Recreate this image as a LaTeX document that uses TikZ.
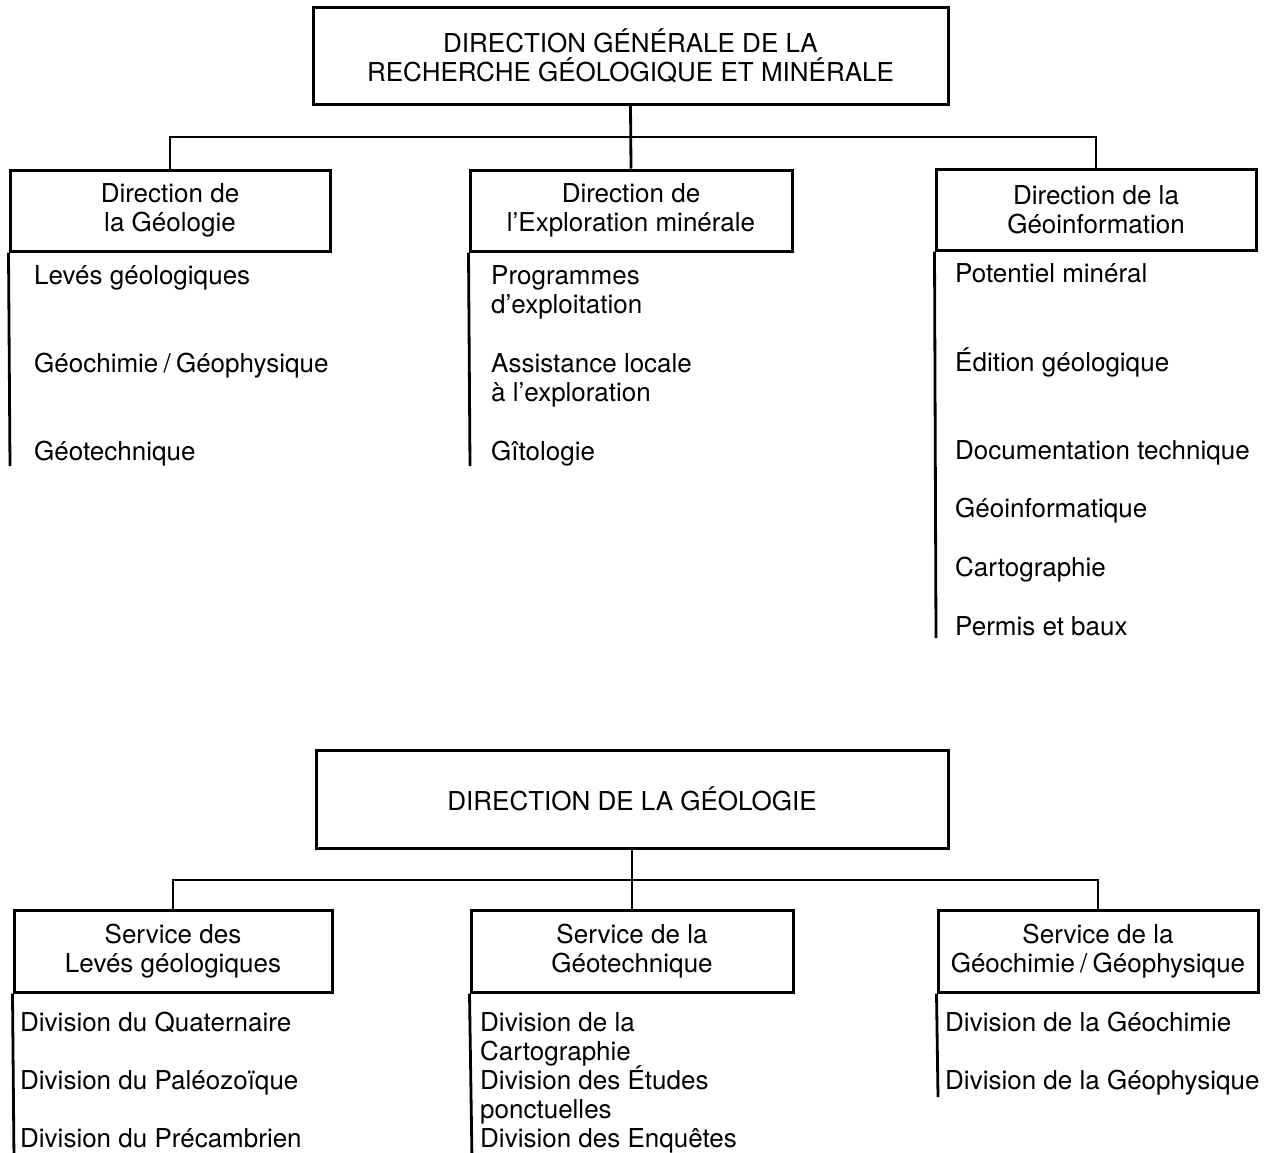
\documentclass[tikz,border=0pt]{standalone}
\usepackage{fontspec}
\setmainfont{TeX Gyre Heros}
\newcommand{\gslash}{\kern0.2em/\kern0.2em}
\begin{document}
\begin{tikzpicture}[x=1pt,y=-1pt,
  box/.style={draw,line width=3pt,align=center,inner sep=0pt,font=\fontsize{26}{29}\selectfont},
  item/.style={anchor=base west,inner sep=0pt,font=\fontsize{26}{29}\selectfont},
  conn/.style={line width=2.8pt}]
\useasboundingbox (0,0) rectangle (1279,1152);

% ---------- upper chart ----------
\node[box,minimum width=635pt,minimum height=97pt] (dg) at (630.5,55.5) {DIRECTION GÉNÉRALE DE LA\\RECHERCHE GÉOLOGIQUE ET MINÉRALE};
\node[box,minimum width=320pt,minimum height=81pt] (g1) at (170,210.5) {Direction de\\la Géologie};
\node[box,minimum width=322pt,minimum height=81pt] (g2) at (631,210.5) {Direction de\\l'Exploration minérale};
\node[box,minimum width=320pt,minimum height=81pt] (g3) at (1096,209.5) {Direction de la\\Géoinformation};

\coordinate (bus1) at (631,137);
\draw[conn] (dg.south) -- (g2.north);
\draw[conn] (g1.north) |- (bus1) -| (g3.north);

\coordinate (e1) at (10,466);
\coordinate (e2) at (470,466);
\coordinate (e3) at (936,638);
\draw[conn] (g1.south west) -- (e1);
\draw[conn] (g2.south west) -- (e2);
\draw[conn] (g3.south west) -- (e3);

\node[item] (a1) at (34,284) {Levés géologiques};
\node[item] (a2) at (34,372) {Géochimie\gslash Géophysique};
\node[item] (a3) at (34,460) {Géotechnique};

\node[item] (b1) at (491,284) {Programmes};
\node[item] (b1b) at (491,313) {d'exploitation};
\node[item] (b2) at (491,372) {Assistance locale};
\node[item] (b2b) at (491,401) {à l'exploration};
\node[item] (b3) at (491,460) {Gîtologie};

\node[item] (c1) at (955,282) {Potentiel minéral};
\node[item] (c2) at (955,371) {Édition géologique};
\node[item] (c3) at (955,459) {Documentation technique};
\node[item] (c4) at (955,517) {Géoinformatique};
\node[item] (c5) at (955,576) {Cartographie};
\node[item] (c6) at (955,635) {Permis et baux};

% ---------- lower chart ----------
\node[box,minimum width=632pt,minimum height=98pt] (dl) at (632,799) {DIRECTION DE LA GÉOLOGIE};
\node[box,minimum width=318pt,minimum height=82pt] (s1) at (173,951) {Service des\\Levés géologiques};
\node[box,minimum width=322pt,minimum height=82pt] (s2) at (632,951) {Service de la\\Géotechnique};
\node[box,minimum width=320pt,minimum height=82pt] (s3) at (1098,951) {Service de la\\Géochimie\gslash Géophysique};

\coordinate (bus2) at (632,880);
\draw[conn] (dl.south) -- (s2.north);
\draw[conn] (s1.north) |- (bus2) -| (s3.north);

\coordinate (f1) at (14,1160);
\coordinate (f2) at (472,1160);
\coordinate (f3) at (938,1097);
\draw[conn] (s1.south west) -- (f1);
\draw[conn] (s2.south west) -- (f2);
\draw[conn] (s3.south west) -- (f3);

\node[item] (p1) at (20,1031) {Division du Quaternaire};
\node[item] (p2) at (20,1089) {Division du Paléozoïque};
\node[item] (p3) at (20,1147) {Division du Précambrien};

\node[item] (q1) at (480,1031) {Division de la};
\node[item] (q2) at (480,1060) {Cartographie};
\node[item] (q3) at (480,1089) {Division des Études};
\node[item] (q4) at (480,1118) {ponctuelles};
\node[item] (q5) at (480,1147) {Division des Enquêtes};

\node[item] (r1) at (945,1031) {Division de la Géochimie};
\node[item] (r2) at (945,1089) {Division de la Géophysique};
\end{tikzpicture}
\end{document}
